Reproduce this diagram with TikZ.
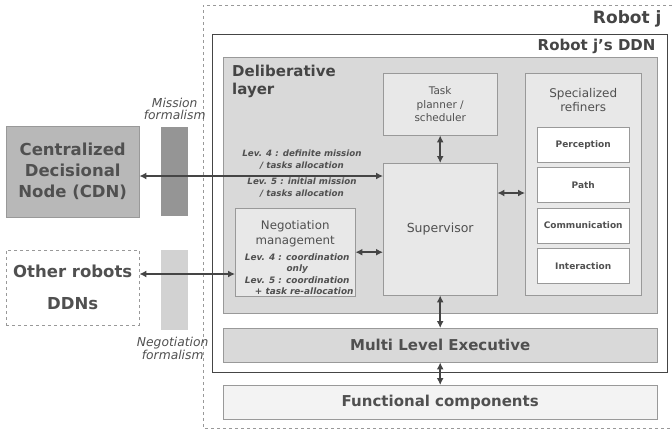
\documentclass[tikz,border=0pt]{standalone}
\usepackage{fontspec}
\setmainfont{DejaVu Sans}
\usetikzlibrary{arrows.meta,positioning}
\definecolor{ink}{HTML}{505050}
\definecolor{frameline}{HTML}{999999}
\definecolor{darkline}{HTML}{454545}
\definecolor{layerfill}{HTML}{D9D9D9}
\definecolor{blockfill}{HTML}{E8E8E8}
\definecolor{cdnfill}{HTML}{B8B8B8}
\definecolor{mformfill}{HTML}{959595}
\definecolor{nformfill}{HTML}{D2D2D2}
\definecolor{funcfill}{HTML}{F3F3F3}
\tikzset{
  blockbox/.style={draw=frameline,fill=blockfill,anchor=north west,align=center,text=ink,inner sep=2pt},
  layerbox/.style={blockbox,fill=layerfill},
  refbox/.style={draw=frameline,fill=white,anchor=north west,minimum width=92pt,minimum height=35pt,text=ink,font=\bfseries\fontsize{9}{10}\selectfont},
  bigtext/.style={font=\bfseries\fontsize{16.5}{21}\selectfont,text=ink,align=center},
  levtext/.style={font=\bfseries\itshape\fontsize{8.7}{12}\selectfont,text=ink,align=center,inner sep=0pt},
  formlabel/.style={font=\itshape\fontsize{12.3}{12.5}\selectfont,text=ink,align=center,inner sep=0pt},
  link/.style={{Latex[length=7pt,width=7pt]}-{Latex[length=7pt,width=7pt]},line width=1.5pt,draw=darkline},
}

\begin{document}
\begin{tikzpicture}[x=1pt,y=-1pt]
  \useasboundingbox (0,0) rectangle (672,431);
  % robot j frame, open on the right
  \draw[dashed,draw=frameline] (672,5) -- (203,5) -- (203,428) -- (672,428);
  \node[anchor=east,font=\bfseries\fontsize{17}{19}\selectfont,text=darkline] (robotj) at (665,19) {Robot j};
  \node[draw=darkline,line width=1.3pt,anchor=north west,minimum width=455pt,minimum height=338pt] (ddn) at (212,34) {};
  \node[anchor=east,font=\bfseries\fontsize{15}{17}\selectfont,text=darkline] (ddnl) at (659,46) {Robot j's DDN};

  % deliberative layer and its blocks
  \node[layerbox,minimum width=434pt,minimum height=256pt] (delib) at (223,57) {};
  \node[anchor=north west,align=left,font=\bfseries\fontsize{15}{18}\selectfont,text=darkline,inner sep=0pt] (delibl) at (232,65) {Deliberative\\layer};
  \node[blockbox,minimum width=114pt,minimum height=62pt,font=\fontsize{10.5}{13.5}\selectfont] (task) at (383,73) {Task\\planner /\\scheduler};
  \node[blockbox,minimum width=114pt,minimum height=132pt,font=\fontsize{12.5}{14}\selectfont] (sup) at (383,163) {Supervisor};
  \node[blockbox,minimum width=116pt,minimum height=222pt] (refiners) at (525,73) {};
  \node[below=15pt of refiners.north,font=\fontsize{12}{14}\selectfont,text=ink,align=center,inner sep=0pt] (refl) {Specialized\\refiners};
  \node[refbox] (perc) at (537,127) {Perception};
  \node[refbox,below=5pt of perc] (path) {Path};
  \node[refbox,below=5pt of path] (comm) {Communication};
  \node[refbox,below=5pt of comm] (inter) {Interaction};

  % negotiation block
  \node[blockbox,minimum width=120pt,minimum height=88pt] (nego) at (235,208) {};
  \node[below=12pt of nego.north,font=\fontsize{11.8}{15}\selectfont,text=ink,align=center,inner sep=0pt] (negol) {Negotiation\\management};
  \node[levtext,font=\bfseries\itshape\fontsize{8.9}{11.2}\selectfont,below=7pt of negol,xshift=2pt] (negolev) {Lev. 4 : coordination\\only\\Lev. 5 : coordination\\\hspace*{14pt}+ task re-allocation};

  % lower layers
  \node[layerbox,minimum width=434pt,minimum height=34pt,font=\bfseries\fontsize{15}{17}\selectfont] (mle) at (223,328) {Multi Level Executive};
  \node[blockbox,fill=funcfill,minimum width=434pt,minimum height=34pt,font=\bfseries\fontsize{15}{17}\selectfont] (func) at (223,385) {Functional components};

  % outside the robot
  \node[draw=frameline,fill=cdnfill,anchor=north west,minimum width=133pt,minimum height=91pt,bigtext] (cdn) at (6,126) {Centralized\\Decisional\\Node (CDN)};
  \node[draw=frameline,dashed,anchor=north west,minimum width=133pt,minimum height=75pt,bigtext,font=\bfseries\fontsize{16.5}{32}\selectfont] (others) at (6,250) {Other robots\\DDNs};
  \node[fill=mformfill,anchor=north west,minimum width=27pt,minimum height=89pt] (mform) at (161,127) {};
  \node[formlabel,above=7pt of mform] (mforml) {Mission\\formalism};
  \node[fill=nformfill,anchor=north west,minimum width=27pt,minimum height=80pt] (nform) at (161,250) {};
  \node[formlabel,below=7pt of nform,xshift=-2pt] (nforml) {Negotiation\\formalism};

  % mission allocation texts
  \node[levtext] (lev4) at (302,160) {Lev. 4 : definite mission\\/ tasks allocation};
  \node[levtext] (lev5) at (302,188) {Lev. 5 : initial mission\\/ tasks allocation};

  % connectors
  \coordinate (mline) at (0,176);
  \coordinate (nline) at (0,274);
  \coordinate (rline) at (0,193);
  \draw[link] (cdn.east |- mline) -- (sup.west |- mline);
  \draw[link] (others.east |- nline) -- (nego.west |- nline);
  \draw[link] (nego.east) -- (sup.west |- nego.east);
  \draw[link] (task.south) -- (sup.north);
  \draw[link] (sup.east |- rline) -- (refiners.west |- rline);
  \draw[link] (sup.south) -- (mle.north -| sup.south);
  \draw[link] (mle.south -| sup.south) -- (func.north -| sup.south);
\end{tikzpicture}
\end{document}
